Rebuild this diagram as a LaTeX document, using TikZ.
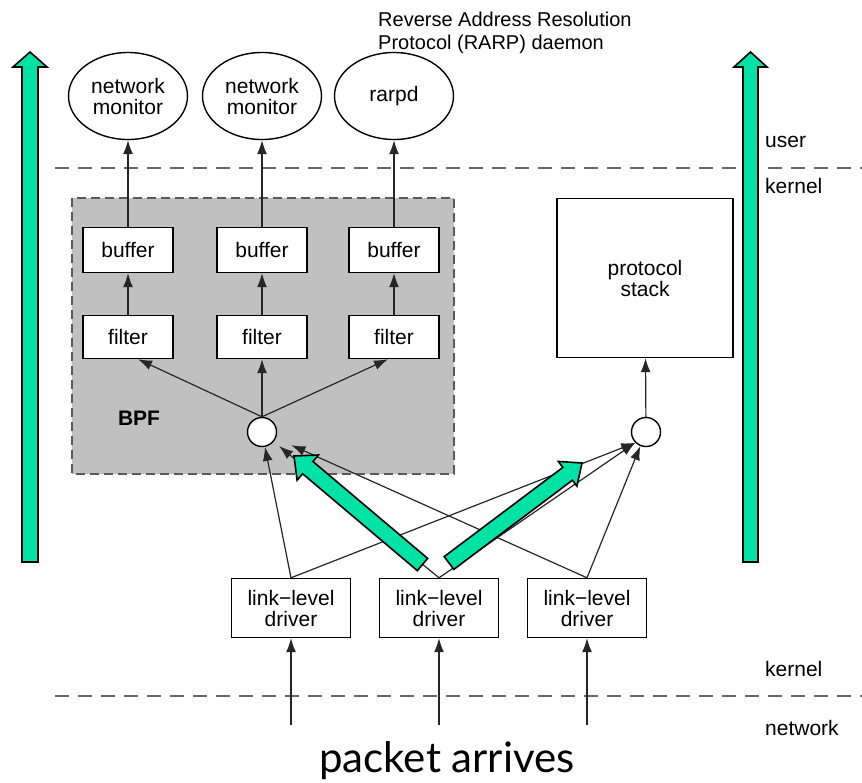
\documentclass[tikz,border=0pt]{standalone}
\usepackage{fontspec}
\setmainfont{Liberation Sans}
\newfontfamily\slidefont{Lato}
\usetikzlibrary{arrows.meta,calc,positioning,shapes.geometric}

\definecolor{arrowgreen}{RGB}{0,226,166}
\definecolor{bpfgray}{RGB}{192,192,192}

\tikzset{
  box/.style={draw, line width=1.4pt, fill=white, inner sep=0pt, align=center},
  app/.style={draw, ellipse, line width=1.4pt, minimum width=119pt, minimum height=87pt, inner sep=0pt, align=center},
  tapnode/.style={draw, circle, line width=1.4pt, fill=white, minimum size=29pt, inner sep=0pt},
  flow/.style={-{Latex[length=14pt,width=10pt]}, line width=1.2pt, draw=black!85},
  divider/.style={draw=black!60, line width=2pt, dash pattern=on 14pt off 9pt},
  fat/.style={fill=arrowgreen, draw=black, line width=1.6pt, line join=miter},
  layer/.style={anchor=west, inner sep=0pt},
}

% #1 from, #2 to, #3 shaft half width, #4 head half width, #5 head length
\newcommand{\fatarrow}[5]{%
  \coordinate (fa base) at ($(#2)!#5!(#1)$);
  \filldraw[fat] ($(#1)!#3!90:(#2)$) -- ($(fa base)!#3!90:(#2)$) -- ($(fa base)!#4!90:(#2)$) -- (#2)
    -- ($(fa base)!#4!-90:(#2)$) -- ($(fa base)!#3!-90:(#2)$) -- ($(#1)!#3!-90:(#2)$) -- cycle;
}

\begin{document}
\begin{tikzpicture}[x=1pt, y=-1pt, font=\fontsize{21}{21}\selectfont]
    \useasboundingbox (0,0) rectangle (862,782);

    \draw[fill=bpfgray, draw=black!65, line width=1.5pt, dash pattern=on 9pt off 5pt] (72,198) rectangle (454,474);
    \node[font=\fontsize{21}{21}\selectfont\bfseries] (bpf) at (139,418) {BPF};

    \draw[divider] (55,168) -- (862,168);
    \draw[divider] (55,696) -- (862,696);

    \node[anchor=north west, inner sep=0pt, align=left, font=\fontsize{20}{23}\selectfont] (rarpnote) at (378,12)
        {Reverse Address Resolution\\Protocol (RARP) daemon};

    \node[app] (mon1) at (128,96) {network\\monitor};
    \node[app] (mon2) at (262,96) {network\\monitor};
    \node[app] (rarpd) at (394,96) {rarpd};

    \node[box, minimum width=90pt, minimum height=45pt] (buf1) at (128,250) {buffer};
    \node[box, minimum width=90pt, minimum height=45pt] (buf2) at (262,250) {buffer};
    \node[box, minimum width=90pt, minimum height=45pt] (buf3) at (394,250) {buffer};

    \node[box, minimum width=90pt, minimum height=43pt] (filt1) at (128,337) {filter};
    \node[box, minimum width=90pt, minimum height=43pt] (filt2) at (262,337) {filter};
    \node[box, minimum width=90pt, minimum height=43pt] (filt3) at (394,337) {filter};

    \node[tapnode] (tap) at (262,432) {};
    \node[tapnode] (tapps) at (646,432) {};

    \node[box, minimum width=176pt, minimum height=159pt] (stack) at (645,278) {protocol\\stack};

    \node[box, minimum width=119pt, minimum height=59pt] (drv1) at (291,608) {link−level\\driver};
    \node[box, minimum width=119pt, minimum height=59pt] (drv2) at (439,608) {link−level\\driver};
    \node[box, minimum width=119pt, minimum height=59pt] (drv3) at (587,608) {link−level\\driver};

    \node[layer] (user) at (765,142) {user};
    \node[layer] (kerneltop) at (765,186) {kernel};
    \node[layer] (kernelbot) at (765,669) {kernel};
    \node[layer] (network) at (765,728) {network};

    \node[anchor=base, inner sep=0pt, font=\slidefont\fontsize{42}{42}\selectfont] (arrives) at (447,772) {packet arrives};

    \draw[flow] (buf1) -- (mon1);
    \draw[flow] (buf2) -- (mon2);
    \draw[flow] (buf3) -- (rarpd);
    \draw[flow] (filt1) -- (buf1);
    \draw[flow] (filt2) -- (buf2);
    \draw[flow] (filt3) -- (buf3);

    \draw[flow] (tap.north) -- ([xshift=10pt]filt1.south);
    \draw[flow] (tap.north) -- (filt2.south);
    \draw[flow] (tap.north) -- ([xshift=-6pt]filt3.south);
    \draw[flow] (tapps) -- (stack);

    \draw[flow] (drv1.north) -- (tap);
    \draw[flow, shorten >=7pt] (drv2.north) -- (tap);
    \draw[flow, shorten >=17pt] (drv3.north) -- (tap);
    \draw[flow] (drv1.north) -- (tapps.south west);
    \draw[flow] (drv2.north) -- (tapps.south west);
    \draw[flow] (drv3.north) -- (tapps);

    \coordinate (wire1) at (291,725);
    \coordinate (wire2) at (439,725);
    \coordinate (wire3) at (587,725);
    \draw[flow] (wire1) -- (drv1);
    \draw[flow] (wire2) -- (drv2);
    \draw[flow] (wire3) -- (drv3);

    \coordinate (leftfoot) at (30,562);
    \coordinate (lefttop) at (30,52);
    \coordinate (rightfoot) at (750.5,562);
    \coordinate (righttop) at (750.5,52);
    \coordinate (bpffoot) at (422.5,564.5);
    \coordinate (bpftip) at (294,456);
    \coordinate (stackfoot) at (449,563);
    \coordinate (stacktip) at (582,463);

    \fatarrow{leftfoot}{lefttop}{8pt}{17pt}{15pt}
    \fatarrow{rightfoot}{righttop}{7.5pt}{16.5pt}{15pt}
    \fatarrow{bpffoot}{bpftip}{8pt}{16.5pt}{18pt}
    \fatarrow{stackfoot}{stacktip}{8pt}{15.5pt}{18pt}
\end{tikzpicture}
\end{document}
